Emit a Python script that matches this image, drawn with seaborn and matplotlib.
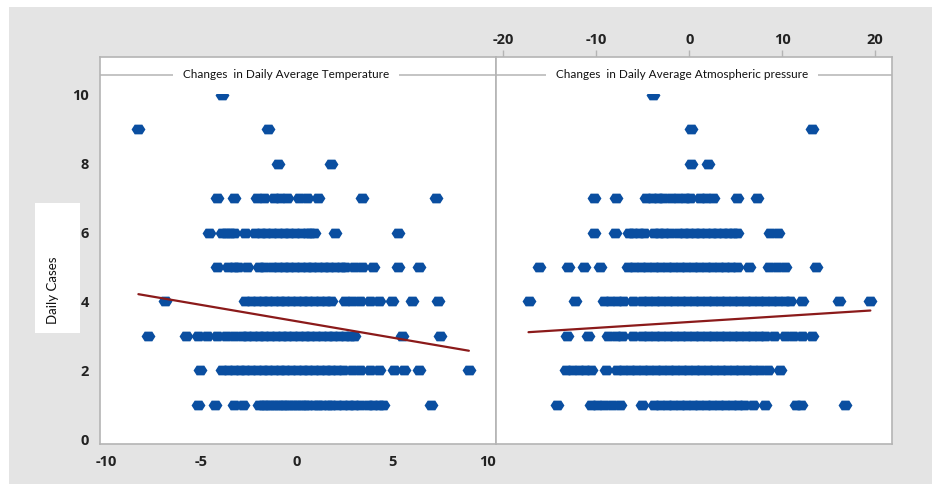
import numpy as np
import pandas as pd
import seaborn as sns
import matplotlib.pyplot as plt
from matplotlib.patches import Rectangle

# daily cases (rows) and the temperature / pressure changes seen on each row
cases = [1, 2, 3, 4, 5, 6, 7, 8, 9, 10]

temp_1 = [-5.2, -4.3, -3.3, -2.8, -2.0, -1.8, -1.6, -1.4, -1.2, -1.0, -0.8, -0.6, -0.4, -0.2, 0.0, 0.2,
          0.4, 0.6, 0.9, 1.1, 1.3, 1.6, 1.8, 2.1, 2.4, 2.7, 3.0, 3.3, 3.7, 4.0, 4.3, 4.5, 7.0]
temp_2 = [-5.1, -3.9, -3.6, -3.3, -3.0, -2.7, -2.4, -2.1, -1.8, -1.5, -1.2, -0.9, -0.6, -0.3, 0.0, 0.3,
          0.6, 0.9, 1.2, 1.5, 1.8, 2.1, 2.4, 2.9, 3.3, 3.8, 4.3, 5.1, 5.6, 6.4, 9.0]
temp_3 = [-7.8, -5.8, -5.2, -4.7, -4.2, -3.7, -3.3, -2.9, -2.6, -2.3, -2.0, -1.7, -1.4, -1.1, -0.8, -0.5,
          -0.2, 0.1, 0.4, 0.7, 1.0, 1.3, 1.6, 1.9, 2.2, 2.5, 2.8, 3.0, 5.5, 7.5]
temp_4 = [-6.9, -2.7, -2.4, -2.1, -1.8, -1.5, -1.2, -0.9, -0.6, -0.3, 0.0, 0.3, 0.6, 0.9, 1.2, 1.5,
          1.8, 2.5, 2.9, 3.3, 3.8, 4.3, 5.0, 6.0, 7.4]
temp_5 = [-4.2, -3.6, -3.3, -3.1, -2.6, -2.0, -1.7, -1.3, -1.0, -0.7, -0.4, -0.1, 0.2, 0.5, 0.8, 1.1,
          1.4, 1.7, 2.0, 2.3, 2.5, 3.0, 3.4, 4.0, 5.3, 6.4]
temp_6 = [-4.6, -3.9, -3.7, -3.5, -3.3, -2.7, -2.2, -1.9, -1.6, -1.3, -1.0, -0.7, -0.4, -0.1, 0.2, 0.5,
          0.7, 0.9, 2.0, 5.3]
temp_7 = [-4.2, -3.3, -2.1, -1.7, -1.2, -0.9, -0.5, 0.1, 0.5, 1.1, 3.4, 7.3]
temp_8 = [-1.0, 1.8]
temp_9 = [-8.3, -1.5]
temp_10 = [-3.9]

pres_1 = [-14.2, -10.6, -9.9, -9.2, -8.3, -7.4, -5.1, -3.8, -3.1, -2.4, -1.7, -1.0, -0.3, 0.4, 1.1, 1.8,
          2.5, 3.2, 3.9, 4.6, 5.3, 5.9, 6.9, 8.2, 11.5, 12.0, 16.8]
pres_2 = [-13.3, -12.6, -11.9, -11.2, -10.6, -9.0, -7.8, -7.1, -6.4, -5.7, -5.0, -4.3, -3.6, -2.9, -2.2,
          -1.5, -0.8, -0.1, 0.6, 1.3, 2.0, 2.7, 3.4, 4.1, 4.8, 5.5, 6.2, 6.9, 7.6, 8.5, 9.8]
pres_3 = [-13.2, -10.9, -8.7, -7.9, -7.2, -6.1, -5.1, -4.4, -3.7, -3.0, -2.3, -1.6, -0.9, -0.2, 0.5, 1.2,
          1.9, 2.6, 3.3, 4.0, 4.7, 5.4, 6.1, 6.8, 7.5, 8.2, 9.1, 10.3, 11.2, 12.1, 13.2]
pres_4 = [-17.3, -12.3, -9.2, -8.5, -7.8, -7.1, -6.1, -5.1, -4.4, -3.7, -3.0, -2.3, -1.6, -0.9, -0.2,
          0.5, 1.2, 1.9, 2.6, 3.3, 4.0, 4.7, 5.4, 6.1, 6.8, 7.5, 8.2, 8.9, 9.6, 10.3, 10.9, 12.1, 16.1, 19.5]
pres_5 = [-16.2, -13.0, -11.3, -9.6, -6.6, -5.9, -5.2, -4.5, -3.8, -3.1, -2.4, -1.7, -1.0, -0.3, 0.4,
          1.1, 1.8, 2.5, 3.2, 3.9, 4.5, 5.1, 6.4, 8.6, 9.5, 10.3, 13.7]
pres_6 = [-10.2, -8.0, -6.5, -6.0, -5.4, -4.9, -3.8, -3.3, -2.7, -2.1, -1.2, -0.6, 0.0, 0.6, 1.2, 1.8,
          2.4, 3.0, 3.6, 4.2, 4.7, 5.1, 8.7, 9.6]
pres_7 = [-10.3, -7.9, -4.6, -4.0, -3.4, -2.8, -2.0, -1.2, -0.5, 0.1, 1.2, 1.8, 2.6, 5.1, 7.3]
pres_8 = [0.2, 2.0]
pres_9 = [0.2, 13.2]
pres_10 = [-3.9]

# fitted lines (slope, intercept)
temp_fit = (-0.095, 3.42)
pres_fit = (0.0171, 3.40)

temp_title = "Changes  in Daily Average Temperature"
pres_title = "Changes  in Daily Average Atmospheric pressure"
temp_ticks = [-10, -5, 0, 5, 10]
pres_ticks = [-20, -10, 0, 10, 20]
y_ticks = [0, 2, 4, 6, 8, 10]

temp_rows = [temp_1, temp_2, temp_3, temp_4, temp_5, temp_6, temp_7, temp_8, temp_9, temp_10]
pres_rows = [pres_1, pres_2, pres_3, pres_4, pres_5, pres_6, pres_7, pres_8, pres_9, pres_10]


def to_frame(rows):
    xs, ys = [], []
    for c, row in zip(cases, rows):
        xs += row
        ys += [c] * len(row)
    return pd.DataFrame({"change": xs, "cases": ys})


df_temp = to_frame(temp_rows)
df_pres = to_frame(pres_rows)

sns.set_style("white")
plt.rcParams["font.family"] = ["Open Sans", "DejaVu Sans"]
plt.rcParams["axes.unicode_minus"] = False

blue = "#0a4ea0"
red = "#8b1a1a"
grey = "#b4b4b4"
hexa = [(-1, 0), (-0.55, 0.7), (0.55, 0.7), (1, 0), (0.55, -0.7), (-0.55, -0.7), (-1, 0)]

fig = plt.figure(figsize=(9.32, 4.84), dpi=100, facecolor="white")
fig.patches.append(Rectangle((9 / 932, 0), 1, 1 - 7 / 484, transform=fig.transFigure,
                             facecolor="#e4e4e4", edgecolor="none", zorder=-2))
fig.patches.append(Rectangle((35 / 932, 1 - 333 / 484), 45 / 932, 130 / 484, transform=fig.transFigure,
                             facecolor="white", edgecolor="none", zorder=-1))
fig.text(53 / 932, 1 - 290 / 484, "Daily Cases", rotation=90, ha="center", va="center",
         fontsize=9.5, family=["Lato", "DejaVu Sans"], color="#111111")

ax1 = fig.add_axes([100 / 932, 1 - 444 / 484, 396 / 932, 387 / 484])
ax2 = fig.add_axes([496 / 932, 1 - 444 / 484, 396 / 932, 387 / 484])

panels = [(ax1, df_temp, temp_fit, temp_title, (-10.31, 10.42)),
          (ax2, df_pres, pres_fit, pres_title, (-20.8, 21.83))]

for ax, df, fit, title, xlim in panels:
    sns.scatterplot(data=df, x="change", y="cases", ax=ax, marker=hexa, s=100,
                    color=blue, linewidth=0, zorder=2)
    xx = np.array([df["change"].min(), df["change"].max()])
    ax.plot(xx, fit[0] * xx + fit[1], color=red, lw=1.6, zorder=2.1)
    ax.set_xlim(*xlim)
    ax.set_ylim(-0.145, 11.1)
    # strip at the top of each panel
    ax.axhspan(10.03, 11.1, color="white", zorder=2.2, lw=0)
    ax.axhline(10.58, color=grey, lw=1.1, zorder=2.3)
    ax.text(np.mean(xlim) - 0.03 * (xlim[1] - xlim[0]), 10.58, title, ha="center", va="center",
            fontsize=8.5, family=["Lato", "DejaVu Sans"], color="#111111", zorder=2.4,
            bbox=dict(boxstyle="square,pad=0.85", facecolor="white", edgecolor="none"))
    ax.set_xlabel("")
    ax.set_ylabel("")
    for sp in ax.spines.values():
        sp.set_color(grey)
        sp.set_linewidth(1.2)

ax1.set_xticks(temp_ticks)
ax1.set_yticks(y_ticks)
ax1.tick_params(axis="both", length=5, color=grey, width=1, labelsize=10.5, pad=3)
for lab in ax1.get_xticklabels() + ax1.get_yticklabels():
    lab.set_fontweight("bold")
    lab.set_color("#222222")

ax2.set_xticks(pres_ticks)
ax2.set_yticks([])
ax2.xaxis.tick_top()
ax2.tick_params(axis="x", length=5, color=grey, width=1, labelsize=10.5, pad=2)
for lab in ax2.get_xticklabels():
    lab.set_fontweight("bold")
    lab.set_color("#222222")

fig.savefig("out.png", dpi=100, facecolor=fig.get_facecolor())
